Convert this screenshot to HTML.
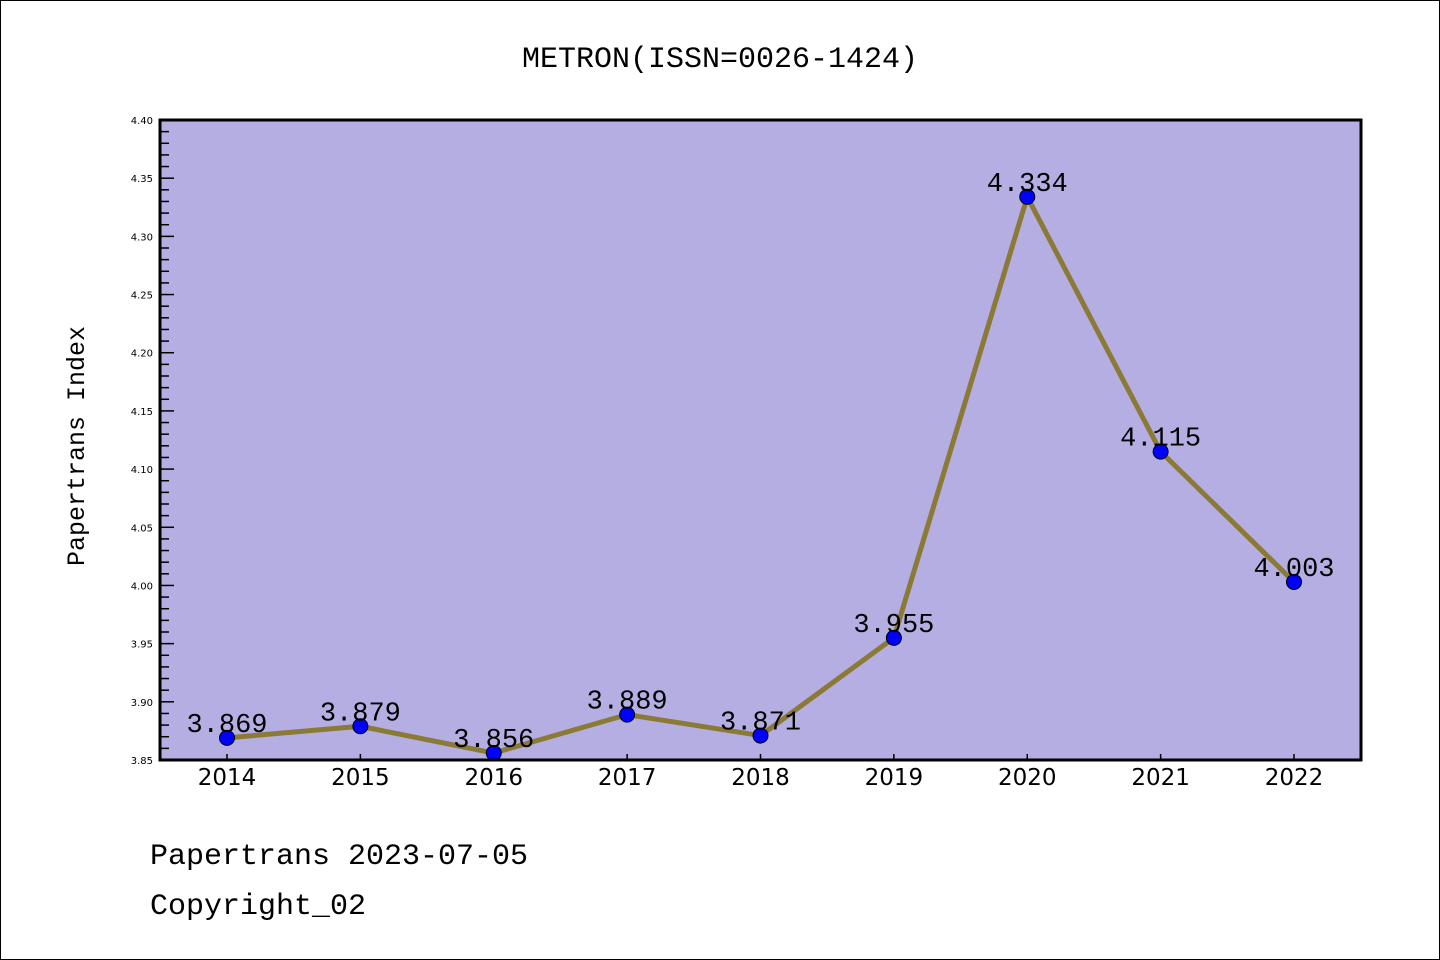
<!DOCTYPE html>
<html><head><meta charset="utf-8"><style>
html,body{margin:0;padding:0;background:#fff}
svg{display:block}
</style></head><body>
<svg id="chart" width="1440" height="960" xmlns="http://www.w3.org/2000/svg">
<rect x="0.5" y="0.5" width="1439" height="959" fill="#fff" stroke="#000" stroke-width="1"/>
<text x="720" y="67" text-anchor="middle" font-family="Liberation Mono, WenQuanYi Zen Hei, monospace" font-size="30">METRON(ISSN=0026-1424)</text>
<rect x="160" y="120" width="1201" height="640" fill="#b5aee2"/>
<g id="yaxis"></g>
<g id="xaxis"></g>
<g id="series"></g>
<rect x="160" y="120" width="1201" height="640" fill="none" stroke="#000" stroke-width="3"/>
<text transform="translate(84,446) rotate(-90)" text-anchor="middle" font-family="Liberation Mono, monospace" font-size="25">Papertrans Index</text>
<text x="150" y="864" font-family="Liberation Mono, monospace" font-size="30">Papertrans 2023-07-05</text>
<text x="150" y="914" font-family="Liberation Mono, monospace" font-size="30">Copyright_02</text>
</svg>
<script>
const categories = ["2014","2015","2016","2017","2018","2019","2020","2021","2022"];
const values = [3.869,3.879,3.856,3.889,3.871,3.955,4.334,4.115,4.003];
const valueLabels = ["3.869","3.879","3.856","3.889","3.871","3.955","4.334","4.115","4.003"];
const yTicks = ["3.85","3.90","3.95","4.00","4.05","4.10","4.15","4.20","4.25","4.30","4.35","4.40"];
const yMin = 3.85, yMax = 4.40;

const NS = "http://www.w3.org/2000/svg";
function y(v){ return 760 - (v - yMin) / (yMax - yMin) * 640; }
function x(i){ return 227 + i * (1294 - 227) / (categories.length - 1); }
function mk(tag, attrs, parent){ const e = document.createElementNS(NS, tag); for (const k in attrs) e.setAttribute(k, attrs[k]); parent.appendChild(e); return e; }

const ya = document.getElementById('yaxis');
for (let m = 0; m <= Math.round((yMax - yMin) * 100); m++) {
  const v = yMin + m * 0.01;
  const major = m % 5 === 0;
  const t = mk('line', {x1:160, x2: major ? 174 : 169, y1: y(v), y2: y(v), stroke:'#000', 'stroke-width':1.5}, ya);
  
  
}
yTicks.forEach(s => {
  const t = mk('text', {x:153, y: y(parseFloat(s)) + 4, 'text-anchor':'end', 'font-family':'DejaVu Sans, sans-serif', 'font-size':10}, ya);
  t.textContent = s;
  
  
});
const xa = document.getElementById('xaxis');
categories.forEach((c, i) => {
  const t = mk('line', {x1:x(i), x2:x(i), y1:760, y2:754, stroke:'#000', 'stroke-width':1.5}, xa);
  
  
  const l = mk('text', {x:x(i), y:785, 'text-anchor':'middle', 'font-family':'DejaVu Sans, sans-serif', 'font-size':23}, xa);
  l.textContent = c;
  
  
});
const sg = document.getElementById('series');
const line = mk('polyline', {points: values.map((v, i) => x(i) + ',' + y(v)).join(' '), fill:'none', stroke:'#8b7a35', 'stroke-width':5, 'stroke-linejoin':'round'}, sg);


values.forEach((v, i) => {
  const c = mk('circle', {cx:x(i), cy:y(v), r:7.5, fill:'#0000ff', stroke:'#000', 'stroke-width':1}, sg);
  
  
  const l = mk('text', {x:x(i), y:y(v) - 6, 'text-anchor':'middle', 'font-family':'Liberation Mono, monospace', 'font-size':27}, sg);
  l.textContent = valueLabels[i];
  
  
});
</script>
</body></html>
